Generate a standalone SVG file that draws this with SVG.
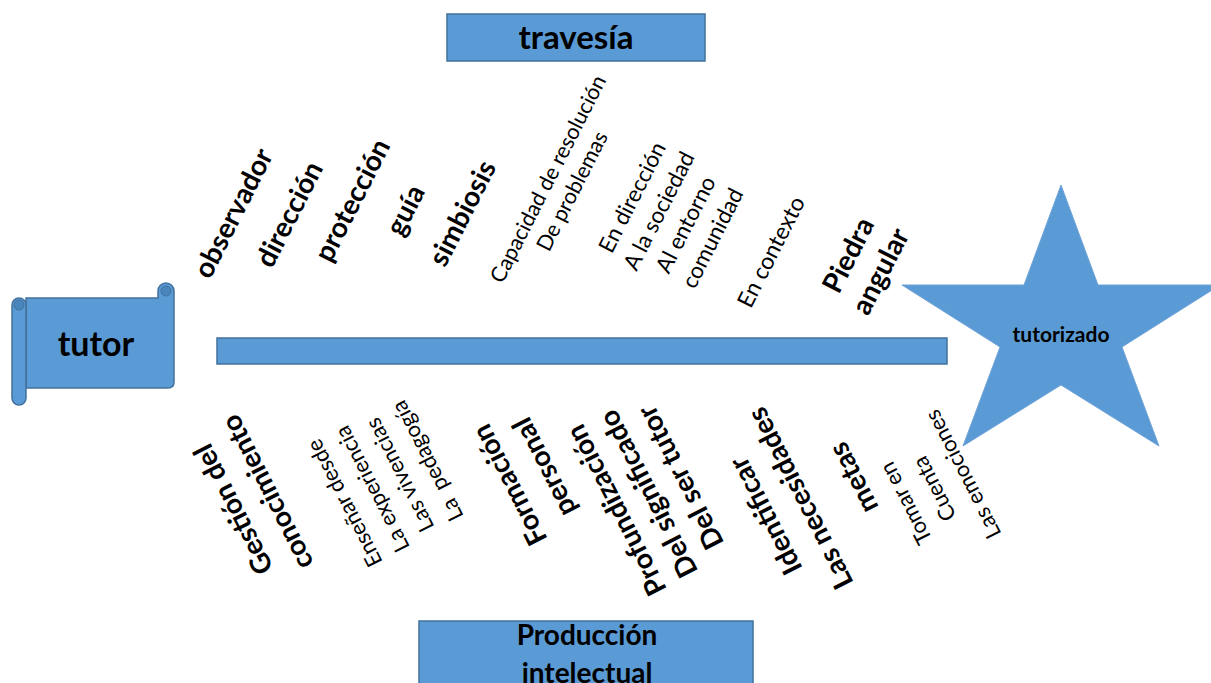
<svg xmlns="http://www.w3.org/2000/svg" width="1211" height="683" viewBox="0 0 1211 683">
<style>
.shape{fill:#5B9BD5;stroke:#41719C;stroke-width:1.5}
.star{fill:#5B9BD5;stroke:#6FA3D8;stroke-width:1}
.t{font-family:Lato,"Open Sans","Liberation Sans",sans-serif;fill:#000}
.b{font-weight:bold}
.big{font-size:28px}
.mid{font-size:28px}
.sm{font-size:22px}
</style>
<rect width="1211" height="683" fill="#fff"/>
<g id="travesia">
<rect class="shape" x="447" y="14" width="258" height="47"/>
<text class="t b" x="576" y="49" font-size="33" text-anchor="middle">travesía</text>
</g>
<g id="produccion">
<rect class="shape" x="419" y="621" width="334" height="70"/>
<text class="t b" x="587" y="645" font-size="28" text-anchor="middle">Producción</text>
<text class="t b" x="587" y="683" font-size="28" text-anchor="middle">intelectual</text>
</g>
<g id="tutor">
<path class="shape" d="M26,298 H158 V291 A8,8 0 0 1 174,291 V382 Q174,388 168,388 H26 Z"/>
<path class="shape" d="M12,305 A7,7 0 0 1 26,305 V398 A7,7 0 0 1 12,398 Z"/>
<circle cx="19" cy="305" r="5" fill="#4A86BE" stroke="#41719C" stroke-width="1"/>
<circle cx="166" cy="291" r="5" fill="#4A86BE" stroke="#41719C" stroke-width="1"/>
<text class="t b" x="96" y="356" font-size="34" text-anchor="middle">tutor</text>
</g>
<g id="connectors">
<rect id="spine" class="shape" x="217" y="338" width="730" height="26"/>
</g>
<g id="tutorizado">
<polygon class="star" points="1061,185 1098,285 1220,285 1122,347 1159,446 1061,385 963,446 1000,347 902,285 1024,285"/>
<text class="t b" x="1061" y="342" font-size="21" text-anchor="middle">tutorizado</text>
</g>
<g id="top-labels">
<g id="l-observador"><text class="t b big" text-anchor="middle" transform="translate(233,213) rotate(-63)"><tspan x="0" y="10">observador</tspan></text></g>
<g id="l-direccion"><text class="t b big" text-anchor="middle" transform="translate(289,214) rotate(-63)"><tspan x="0" y="10">dirección</tspan></text></g>
<g id="l-proteccion"><text class="t b big" text-anchor="middle" transform="translate(352,200) rotate(-63)"><tspan x="0" y="10">protección</tspan></text></g>
<g id="l-guia"><text class="t b big" text-anchor="middle" transform="translate(405,210) rotate(-63)"><tspan x="0" y="10">guía</tspan></text></g>
<g id="l-simbiosis"><text class="t b big" text-anchor="middle" transform="translate(462,213) rotate(-63)"><tspan x="0" y="10">simbiosis</tspan></text></g>
<g id="l-capacidad"><text class="t" font-size="21.5" text-anchor="middle" transform="translate(560,185) rotate(-63)"><tspan x="0" y="-6">Capacidad de resolución</tspan><tspan x="0" y="21">De problemas</tspan></text></g>
<g id="l-endireccion"><text class="t" font-size="22.5" text-anchor="middle" transform="translate(673,218) rotate(-63)"><tspan x="0" y="-38">En dirección</tspan><tspan x="0" y="-8">A la sociedad</tspan><tspan x="0" y="22">Al entorno</tspan><tspan x="0" y="52">comunidad</tspan></text></g>
<g id="l-contexto"><text class="t" font-size="23" text-anchor="middle" transform="translate(771,252) rotate(-63)"><tspan x="0" y="8">En contexto</tspan></text></g>
<g id="l-piedra"><text class="t b big" text-anchor="middle" transform="translate(864,263) rotate(-63)"><tspan x="0" y="-8">Piedra</tspan><tspan x="0" y="28">angular</tspan></text></g>
</g>
<g id="bottom-labels">
<g id="l-gestion"><text class="t b mid" text-anchor="middle" transform="translate(250,501) rotate(-117)"><tspan x="0" y="-9">Gestión del</tspan><tspan x="0" y="29">conocimiento</tspan></text></g>
<g id="l-ensenar"><text class="t sm" text-anchor="middle" transform="translate(386,482) rotate(-117)" style="white-space:pre"><tspan x="0" y="-39">Enseñar desde</tspan><tspan x="0" y="-8">La experiencia</tspan><tspan x="0" y="23">Las vivencias</tspan><tspan x="0" y="54">La  pedagogía</tspan></text></g>
<g id="l-formacion"><text class="t b mid" text-anchor="middle" transform="translate(527,476) rotate(-117)"><tspan x="0" y="-10">Formación</tspan><tspan x="0" y="29">personal</tspan></text></g>
<g id="l-profund"><text class="t b mid" text-anchor="middle" transform="translate(648,494) rotate(-117)"><tspan x="0" y="-26">Profundización</tspan><tspan x="0" y="10">Del significado</tspan><tspan x="0" y="46">Del ser tutor</tspan></text></g>
<g id="l-identificar"><text class="t b mid" text-anchor="middle" transform="translate(783,507) rotate(-117)"><tspan x="0" y="-10">Identificar</tspan><tspan x="0" y="29">Las necesidades</tspan></text></g>
<g id="l-metas"><text class="t b mid" text-anchor="middle" transform="translate(853,478) rotate(-117)"><tspan x="0" y="10">metas</tspan></text></g>
<g id="l-tomar"><text class="t sm" text-anchor="middle" transform="translate(934,489) rotate(-117)"><tspan x="0" y="-24">Tomar en</tspan><tspan x="0" y="8">Cuenta</tspan><tspan x="0" y="40">Las emociones</tspan></text></g>
</g>
</svg>
